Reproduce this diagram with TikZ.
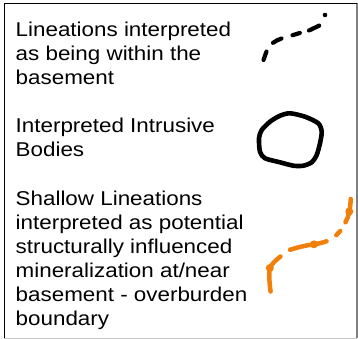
\documentclass[tikz,border=0pt]{standalone}
\usepackage{fontspec}
\setmainfont[FakeStretch=1.12]{Liberation Sans}
\definecolor{orangeline}{RGB}{240,128,10}
\begin{document}
\begin{tikzpicture}[x=1pt,y=-1pt,
  legendtext/.style={anchor=base west,inner sep=0pt,font=\fontsize{20}{24}\selectfont},
  blackline/.style={line width=4.2pt,line cap=round,line join=round,black},
  orangestroke/.style={line width=4.5pt,line cap=round,line join=round,orangeline},
  orangedot/.style={fill=orangeline,draw=none},
  frameleft/.style={line width=1.5pt,black},
  frameright/.style={line width=1.6pt,black!50},
  framebottom/.style={line width=1.4pt,black!22}]
\useasboundingbox (0,0) rectangle (358,339);
% frame
\coordinate (tl) at (4.3,3.5);
\coordinate (tr) at (356.8,3.5);
\coordinate (bl) at (4.3,338.3);
\coordinate (br) at (356.8,338.3);
\draw[framebottom] (bl) -- (br);
\draw[frameright] (tr) -- (br);
\draw[frameleft] (bl) -- (tl) -- (tr);
% texts
\node[legendtext] (t1) at (15.5,37) {\vtop{\hbox{Lineations interpreted}\hbox{as being within the}\hbox{basement}}};
\node[legendtext] (t2) at (15.5,133) {\vtop{\hbox{Interpreted Intrusive}\hbox{Bodies}}};
\node[legendtext] (t3) at (15.5,205) {\vtop{\hbox{Shallow Lineations}\hbox{interpreted as potential}\hbox{structurally influenced}\hbox{mineralization at/near}\hbox{basement - overburden}\hbox{boundary}}};
% basement lineation (dashed black)
\draw[blackline] (263.5,60) -- (266.5,51.5);
\draw[blackline] (273,42.8) .. controls (276,40.8) and (278.5,39.5) .. (281.5,38.5);
\draw[blackline] (292.5,35.2) -- (299.8,33);
\draw[blackline] (309,30.5) -- (319.2,25.6);
\fill[black] (325,15) circle (2.3);
% intrusive body
\draw[line width=4.6pt,line join=round] plot[smooth cycle,tension=0.45] coordinates {
 (290,113.3) (305,116.7) (318.3,123.3) (321.7,131.7) (320,143.3) (316.7,155)
 (311.7,162.3) (303.3,165.7) (293.3,165.7) (280,162.3) (265,158.3) (260,151.7)
 (259,138.3) (261.7,130) (270,121.7) (280,115.7)};
% shallow lineation (orange)
\draw[orangestroke] (350.8,199) .. controls (350.5,204) and (350,208) .. (349.3,211.5) .. controls (348.5,215.5) and (347.3,219) .. (345.5,222.3);
\draw[orangestroke] (340.2,231) -- (336.3,235.2);
\draw[orangestroke] (326.5,241.3) .. controls (322,242.8) and (318,243.8) .. (314,244.3) .. controls (305,245.5) and (297,247.5) .. (290,249.8);
\draw[orangestroke] (280.5,256.5) .. controls (276,260) and (272,263.5) .. (269.8,268) .. controls (268.8,276) and (269.5,284) .. (270.6,291.5);
\fill[orangedot] (349.3,211.5) circle (4);
\fill[orangedot] (314,244.3) circle (4);
\fill[orangedot] (269.8,268) circle (4);
\end{tikzpicture}
\end{document}
